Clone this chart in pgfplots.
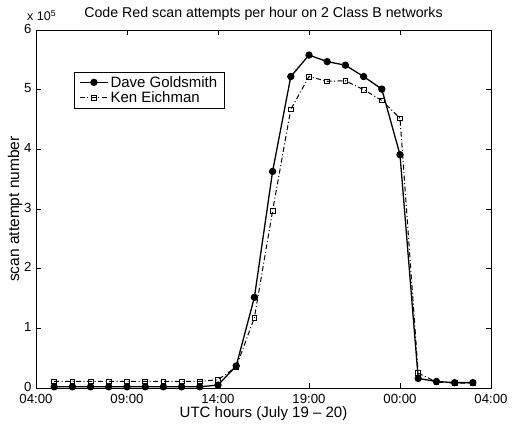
\documentclass[border=0pt]{standalone}
\usepackage{fontspec}
\setmainfont{Liberation Sans}
\usepackage{pgfplots}
\pgfplotsset{compat=1.18}
\begin{document}
\begin{tikzpicture}
\useasboundingbox (-36pt,-38pt) rectangle (480pt,388pt);
\begin{axis}[
  at={(0pt,0pt)}, anchor=south west,
  width=455pt, height=358pt, scale only axis,
  xmin=4, xmax=29, ymin=0, ymax=6,
  xtick={4,9,14,19,24,29},
  xticklabels={04:00,09:00,14:00,19:00,00:00,04:00},
  ytick={0,1,2,3,4,5,6},
  tick align=inside,
  major tick length=5pt,
  tick style={black, line width=0.6pt},
  axis line style={black, line width=0.8pt},
  font=\fontsize{13}{15}\selectfont,
  ticklabel style={font=\fontsize{13.2}{15}\selectfont},
  /pgf/number format/assume math mode=true,
  yticklabel style={xshift=-1pt, yshift=1.5pt},
  xticklabel style={yshift=-3pt},
  title={Code Red scan attempts per hour on 2 Class B networks},
  title style={at={(0.5,1)}, anchor=base, yshift=6pt, inner sep=0pt, font=\fontsize{14.2}{16}\selectfont},
  xlabel={UTC hours (July 19 -- 20)},
  xlabel style={yshift=4pt, font=\fontsize{15}{17}\selectfont},
  ylabel={scan attempt number},
  ylabel style={yshift=-5pt, font=\fontsize{15.5}{17}\selectfont},
  legend style={at={(0.0835,0.883)}, anchor=north west, draw=black, line width=0.5pt,
    font=\fontsize{15}{17}\selectfont, inner xsep=5pt, inner ysep=2pt, row sep=-1pt},
  legend cell align=left,
  legend image code/.code={\draw[mark repeat=2,mark phase=2,#1] plot coordinates {(0pt,0pt)(14pt,0pt)(28pt,0pt)};},
  clip=false,
]
\addplot[black, line width=1.3pt, mark=*, mark size=3pt, mark options={solid, fill=black}]
coordinates {
(5,0.02)(6,0.02)(7,0.02)(8,0.02)(9,0.02)(10,0.02)(11,0.02)(12,0.02)(13,0.02)
(14,0.05)(15,0.37)(16,1.52)(17,3.63)(18,5.22)(19,5.58)(20,5.47)(21,5.41)
(22,5.22)(23,5.01)(24,3.91)(25,0.16)(26,0.11)(27,0.09)(28,0.09)
};
\addlegendentry{Dave Goldsmith}
\addplot[black, line width=1pt, dash pattern=on 5pt off 2.5pt on 1pt off 2.5pt,
  mark=square, mark size=2.4pt, mark options={solid, fill=white, line width=0.8pt}]
coordinates {
(5,0.11)(6,0.11)(7,0.11)(8,0.11)(9,0.11)(10,0.11)(11,0.11)(12,0.11)(13,0.11)
(14,0.14)(15,0.35)(16,1.18)(17,2.97)(18,4.67)(19,5.22)(20,5.14)(21,5.15)
(22,5.00)(23,4.82)(24,4.52)(25,0.25)(26,0.10)(27,0.08)(28,0.08)
};
\addlegendentry{Ken Eichman}
\node[anchor=base west, inner sep=0pt, font=\fontsize{12.5}{14}\selectfont] at (rel axis cs:0,1) [xshift=-9pt, yshift=9.5pt] {x 10$^{\mathrm{5}}$};
\end{axis}
\end{tikzpicture}
\end{document}
